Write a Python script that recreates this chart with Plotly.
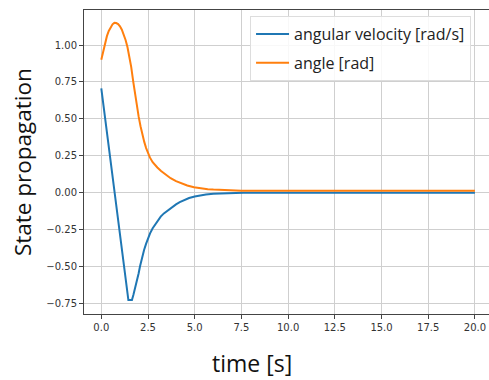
import plotly.graph_objects as go

# angular velocity [rad/s]
t_vel = [0.0, 1.45, 1.55, 1.64, 1.72, 1.8, 1.87, 2.0, 2.07, 2.2, 2.29, 2.4, 2.5, 2.61, 2.75, 2.9,
         3.05, 3.18, 3.35, 3.5, 3.65, 3.8, 4.0, 4.2, 4.43, 4.7, 5.0, 5.3, 5.6, 6.0, 6.4, 6.8, 7.2,
         7.6, 20.0]
v_vel = [0.707, -0.727, -0.727, -0.727, -0.69, -0.652, -0.614, -0.545, -0.50, -0.43, -0.388, -0.345,
         -0.31, -0.275, -0.24, -0.21, -0.182, -0.162, -0.14, -0.125, -0.11, -0.095, -0.079, -0.064,
         -0.049, -0.036, -0.026, -0.018, -0.012, -0.007, -0.004, -0.002, -0.001, 0.0, 0.0]

# angle [rad]
t_ang = [0.0, 0.1, 0.2, 0.3, 0.4, 0.5, 0.6, 0.7, 0.8, 0.9, 1.0, 1.1, 1.2, 1.3, 1.4, 1.5, 1.6,
         1.71, 1.8, 1.9, 2.0, 2.1, 2.2, 2.3, 2.4, 2.5, 2.6, 2.75, 2.9, 3.0, 3.2, 3.45, 3.71, 4.0,
         4.3, 4.6, 4.96, 5.3, 5.7, 6.0, 6.5, 7.0, 7.5, 20.0]
v_ang = [0.90, 0.96, 1.015, 1.06, 1.095, 1.122, 1.140, 1.150, 1.149, 1.142, 1.127, 1.104, 1.073,
         1.034, 0.986, 0.927, 0.852, 0.752, 0.668, 0.588, 0.515, 0.45, 0.393, 0.344, 0.302, 0.267,
         0.239, 0.207, 0.184, 0.171, 0.147, 0.121, 0.098, 0.078, 0.062, 0.049, 0.037, 0.029, 0.024,
         0.021, 0.017, 0.014, 0.013, 0.013]

x_ticks = [0, 2.5, 5, 7.5, 10, 12.5, 15, 17.5, 20]
x_ticklabels = ["0.0", "2.5", "5.0", "7.5", "10.0", "12.5", "15.0", "17.5", "20.0"]
y_ticks = [-0.75, -0.5, -0.25, 0.0, 0.25, 0.5, 0.75, 1.0]
y_ticklabels = ["−0.75", "−0.50", "−0.25", "0.00", "0.25", "0.50", "0.75", "1.00"]

fig = go.Figure()
fig.add_trace(go.Scatter(x=t_vel, y=v_vel, mode="lines", name="angular velocity [rad/s]",
                         line=dict(color="#1f77b4", width=2), legendgroup="a"))
fig.add_trace(go.Scatter(x=t_ang, y=v_ang, mode="lines", name="angle [rad]",
                         line=dict(color="#ff7f0e", width=2), legendgroup="b"))

axis_common = dict(showgrid=True, gridcolor="#cfcfcf", gridwidth=1.2, zeroline=False,
                   showline=True, linecolor="#444444", linewidth=1, automargin=False,
                   ticks="outside", ticklen=4, tickcolor="#444444",
                   tickfont=dict(family="DejaVu Sans", size=10, color="#333333"))

fig.update_xaxes(range=[-0.926, 20.755], tickvals=x_ticks, ticktext=x_ticklabels, mirror=True,
                 **axis_common)
fig.update_yaxes(range=[-0.821, 1.237], tickvals=y_ticks, ticktext=y_ticklabels, mirror=False,
                 **axis_common)

fig.add_annotation(text="time [s]", xref="paper", yref="paper", x=0.415, y=-0.16,
                   xanchor="center", yanchor="middle", showarrow=False,
                   font=dict(family="Open Sans", size=23, color="#111111"))
fig.add_annotation(text="State propagation", xref="paper", yref="paper", x=-0.153, y=0.5,
                   xanchor="center", yanchor="middle", showarrow=False, textangle=-90,
                   font=dict(family="Open Sans", size=22.5, color="#111111"))

fig.update_layout(
    width=489, height=380,
    margin=dict(l=84, r=0, t=10, b=66),
    plot_bgcolor="white", paper_bgcolor="white",
    legend=dict(x=0.41, y=0.98, xanchor="left", yanchor="top",
                bgcolor="rgba(255,255,255,0.85)", bordercolor="#dddddd", borderwidth=1,
                font=dict(family="Open Sans", size=16, color="#222222"),
                tracegroupgap=5, itemwidth=33),
    showlegend=True,
)

fig.write_html("out.html", config={"displayModeBar": False},
               post_script="document.body.style.margin='0';document.body.style.overflow='hidden';")
